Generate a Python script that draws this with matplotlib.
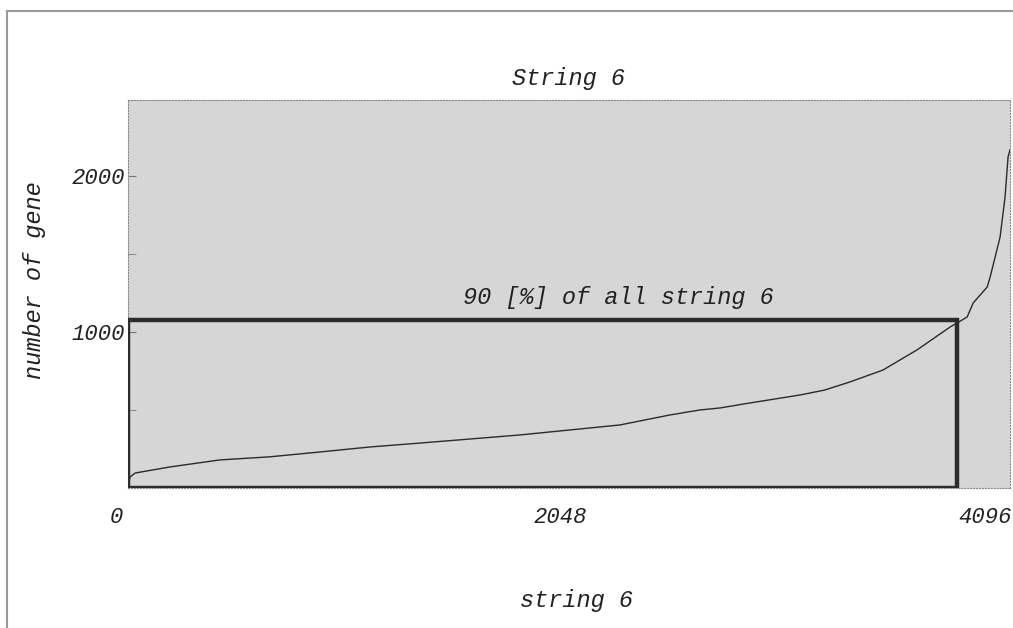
import matplotlib
matplotlib.use('Agg')
import matplotlib.pyplot as plt
import matplotlib.transforms as mtransforms
from matplotlib.patches import Rectangle

# -- data -- #
idx = [0, 9, 33, 195, 427, 660, 892, 1124, 1356, 1588, 1820, 2052, 2284,
       2516, 2656, 2749, 2888, 3120, 3236, 3353, 3506, 3664, 3818, 3897,
       3925, 3990, 4004, 4027, 4050, 4073, 4087, 4096]
genes = [0, 70, 96, 135, 180, 200, 231, 263, 288, 314, 340, 372, 404,
         468, 500, 513, 545, 596, 628, 680, 756, 885, 1032, 1096,
         1186, 1288, 1353, 1481, 1609, 1865, 2122, 2167]

box_x = 3850        # 90 % of all strings
box_y = 1080
xticks = [0, 2048, 4096]
yticks = [1000, 2000]
yminor = [500, 1500]

title = 'String 6'
xlab = 'string 6'
ylab = 'number of gene'
box_text = '90 [%] of all string 6'

# -- figure -- #
fnt = dict(family='Liberation Mono', style='italic', color='#222222')

fig = plt.figure(figsize=(10.13, 6.28), dpi=100)
fig.patch.set_facecolor('white')
# grey frame round the whole picture (only left/top visible)
fig.patches.append(Rectangle((7 / 1013, -0.1), 1.2, 1 - 11 / 628 + 0.1,
                             transform=fig.transFigure, fill=False,
                             edgecolor='#9a9a9a', lw=1.5))

ax = fig.add_axes([128 / 1013, 1 - 488 / 628, 882 / 1013, 388 / 628])
ax.set_facecolor('#d6d6d6')
ax.set_xlim(0, 4096)
ax.set_ylim(0, 2487)

ax.plot(idx, genes, color='#2a2a2a', lw=1.0)
ax.add_patch(Rectangle((0, 0), box_x, box_y, fill=False,
                       edgecolor='#2b2b2b', lw=3.2, zorder=5))
ax.text(2275, 1224, box_text, ha='center', va='center', fontsize=17, **fnt)

for s in ax.spines.values():
    s.set_color('#888888')
    s.set_linewidth(0.8)
    s.set_linestyle(':')

ax.set_xticks(xticks)
ax.set_xticklabels([str(v) for v in xticks], fontsize=16, **fnt)
ax.set_yticks(yticks)
ax.set_yticklabels([str(v) for v in yticks], fontsize=16, **fnt)
ax.set_yticks(yminor, minor=True)
ax.tick_params(axis='y', which='both', direction='in', length=6,
               color='#777777', pad=2)
ax.tick_params(axis='x', length=0, pad=14)

# x tick labels sit a bit left of their positions
shifts = [-12, -9, 2]
for lab, dx in zip(ax.get_xticklabels(), shifts):
    off = mtransforms.ScaledTranslation(dx / 100, 0, fig.dpi_scale_trans)
    lab.set_transform(lab.get_transform() + off)
ax.get_xticklabels()[-1].set_horizontalalignment('right')

fig.text(569 / 1013, 1 - 78 / 628, title, ha='center', va='center',
         fontsize=17, **fnt)
fig.text(577 / 1013, 1 - 600 / 628, xlab, ha='center', va='center',
         fontsize=17, **fnt)
fig.text(35 / 1013, 1 - 280 / 628, ylab, ha='center', va='center',
         rotation=90, fontsize=17, **fnt)

fig.savefig('out.png', dpi=100)
